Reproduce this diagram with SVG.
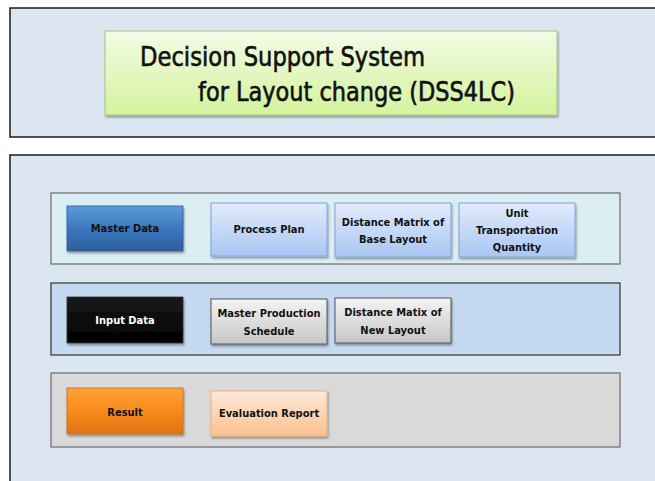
<svg xmlns="http://www.w3.org/2000/svg" width="655" height="481" viewBox="0 0 655 481">
<defs>
<linearGradient id="gGreen" x1="0" y1="0" x2="0" y2="1"><stop offset="0" stop-color="#f3fbe6"/><stop offset="1" stop-color="#d4f39c"/></linearGradient>
<linearGradient id="gBlue" x1="0" y1="0" x2="0" y2="1"><stop offset="0" stop-color="#5d9ad8"/><stop offset="0.5" stop-color="#3b78c0"/><stop offset="1" stop-color="#2d5f9e"/></linearGradient>
<linearGradient id="gLBlue" x1="0" y1="0" x2="0" y2="1"><stop offset="0" stop-color="#e2ebfc"/><stop offset="1" stop-color="#a9c6f3"/></linearGradient>
<linearGradient id="gBlack" x1="0" y1="0" x2="0" y2="1"><stop offset="0" stop-color="#1a1a1a"/><stop offset="1" stop-color="#000"/></linearGradient>
<linearGradient id="gGray" x1="0" y1="0" x2="0" y2="1"><stop offset="0" stop-color="#f4f4f4"/><stop offset="1" stop-color="#c6c6c6"/></linearGradient>
<linearGradient id="gOrange" x1="0" y1="0" x2="0" y2="1"><stop offset="0" stop-color="#ffa33a"/><stop offset="0.5" stop-color="#f88b1c"/><stop offset="1" stop-color="#df7314"/></linearGradient>
<linearGradient id="gPeach" x1="0" y1="0" x2="0" y2="1"><stop offset="0" stop-color="#fee9da"/><stop offset="1" stop-color="#fbc18e"/></linearGradient>
<filter id="sh" x="-10%" y="-10%" width="130%" height="140%"><feDropShadow dx="1" dy="2" stdDeviation="1.2" flood-color="#000" flood-opacity="0.35"/></filter>
</defs>
<style>
.panel{fill:#dce6f1;stroke:#1a1a1a;stroke-width:1.5}
.row{stroke-width:1.2}
.box{filter:url(#sh)}
.t{font-family:"DejaVu Sans Condensed","DejaVu Sans",sans-serif;font-size:11px;font-weight:bold;fill:#111;text-anchor:middle}
.tw{fill:#fff}
.title{font-family:"DejaVu Sans Condensed","DejaVu Sans",sans-serif;font-size:27px;fill:#111;stroke:#111;stroke-width:0.6}
</style>
<rect width="655" height="481" fill="#fff"/>
<g id="top-panel">
<rect class="panel" x="10" y="8" width="650" height="129"/>
</g>
<g id="title">
<rect class="box" x="105" y="31" width="452" height="84" fill="url(#gGreen)" stroke="#a6c87a" stroke-width="1"/>
<text class="title" x="140" y="66" textLength="285" lengthAdjust="spacingAndGlyphs">Decision Support System</text>
<text class="title" x="198" y="101" textLength="317" lengthAdjust="spacingAndGlyphs">for Layout change (DSS4LC)</text>
</g>
<g id="bottom-panel">
<rect class="panel" x="10" y="155" width="650" height="332"/>
</g>
<g id="row-master">
<rect class="row" x="51" y="193" width="569" height="71" fill="#dbeef3" stroke="#6b6b6b"/>
</g>
<g id="row-input">
<rect class="row" x="51" y="283" width="569" height="72" fill="#c5d9f1" stroke="#333"/>
</g>
<g id="row-result">
<rect class="row" x="51" y="373" width="569" height="74" fill="#d9d9d9" stroke="#6b6b6b"/>
</g>
<g id="master-data">
<rect class="box" x="67" y="206" width="116" height="45" fill="url(#gBlue)" stroke="#2a5a94" stroke-width="0.8"/>
<text class="t" x="125" y="232">Master Data</text>
</g>
<g id="process-plan">
<rect class="box" x="211" y="203" width="116" height="53" fill="url(#gLBlue)" stroke="#7ea6d8" stroke-width="1"/>
<text class="t" x="269" y="233">Process Plan</text>
</g>
<g id="distance-base">
<rect class="box" x="335" y="203" width="116" height="54" fill="url(#gLBlue)" stroke="#7ea6d8" stroke-width="1"/>
<text class="t" x="393" y="226">Distance Matrix of</text>
<text class="t" x="393" y="243">Base Layout</text>
</g>
<g id="unit-transport">
<rect class="box" x="459" y="203" width="116" height="54" fill="url(#gLBlue)" stroke="#7ea6d8" stroke-width="1"/>
<text class="t" x="517" y="217">Unit</text>
<text class="t" x="517" y="234">Transportation</text>
<text class="t" x="517" y="251">Quantity</text>
</g>
<g id="input-data">
<rect class="box" x="67" y="297" width="116" height="46" fill="url(#gBlack)" stroke="#333" stroke-width="0.8"/>
<text class="t tw" x="125" y="324">Input Data</text>
</g>
<g id="mps">
<rect class="box" x="211" y="299" width="116" height="45" fill="url(#gGray)" stroke="#555" stroke-width="1"/>
<text class="t" x="269" y="317">Master Production</text>
<text class="t" x="269" y="335">Schedule</text>
</g>
<g id="distance-new">
<rect class="box" x="335" y="298" width="116" height="45" fill="url(#gGray)" stroke="#555" stroke-width="1"/>
<text class="t" x="393" y="316">Distance Matix of</text>
<text class="t" x="393" y="334">New Layout</text>
</g>
<g id="result">
<rect class="box" x="67" y="388" width="116" height="46" fill="url(#gOrange)" stroke="#c8661a" stroke-width="0.8"/>
<text class="t" x="125" y="416">Result</text>
</g>
<g id="evaluation-report">
<rect class="box" x="211" y="391" width="116" height="45" fill="url(#gPeach)" stroke="#f5ad74" stroke-width="1"/>
<text class="t" x="269" y="417">Evaluation Report</text>
</g>
<g id="connectors"></g>
</svg>
